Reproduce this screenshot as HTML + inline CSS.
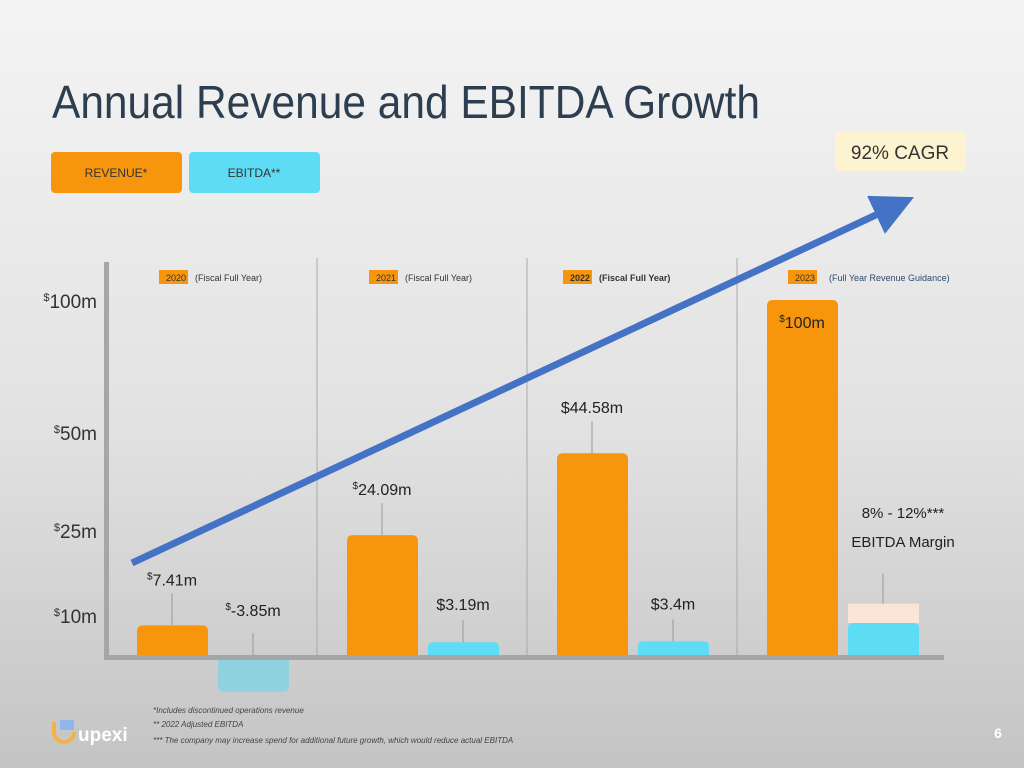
<!DOCTYPE html>
<html><head><meta charset="utf-8"><style>
body{margin:0;width:1024px;height:768px;overflow:hidden;font-family:"Liberation Sans",sans-serif}
svg{display:block}
</style></head><body>
<svg id="chart" width="1024" height="768" viewBox="0 0 1024 768" font-family="Liberation Sans, sans-serif">
<defs>
<linearGradient id="bg" x1="0" y1="0" x2="0" y2="1"><stop offset="0" stop-color="#f4f4f4"/><stop offset="0.55" stop-color="#e2e2e2"/><stop offset="1" stop-color="#c4c4c4"/></linearGradient>
<marker id="ah" markerWidth="6" markerHeight="6" refX="3" refY="3" orient="auto" markerUnits="strokeWidth"><path d="M0,0 L6,3 L0,6 z" fill="#4472c4"/></marker>
</defs>
<rect width="1024" height="768" fill="url(#bg)"/>
<text x="52" y="118" font-size="46" fill="#2d3e50" textLength="708" lengthAdjust="spacingAndGlyphs">Annual Revenue and EBITDA Growth</text>
<g><rect x="51" y="152" width="131" height="41" rx="4" fill="#f7960c"/><text x="116" y="177" font-size="12" text-anchor="middle" fill="#333">REVENUE*</text></g>
<g><rect x="189" y="152" width="131" height="41" rx="4" fill="#5fdcf5"/><text x="254" y="177" font-size="12" text-anchor="middle" fill="#333">EBITDA**</text></g>
<g><rect x="835" y="131" width="131" height="40" rx="4" fill="#fdf3d0"/><text x="900" y="159" font-size="19" text-anchor="middle" fill="#333">92% CAGR</text></g>
<g id="plot"></g>
<line x1="132" y1="563" x2="895" y2="206" stroke="#4472c4" stroke-width="7" marker-end="url(#ah)"/>
<g font-size="8" font-style="italic" fill="#444">
<text x="153" y="713">*Includes discontinued operations revenue</text>
<text x="153" y="727">** 2022 Adjusted EBITDA</text>
<text x="153" y="743">*** The company may increase spend for additional future growth, which would reduce actual EBITDA</text></g>
<g><path d="M54,722 v10 a10,10 0 0 0 20,0" fill="none" stroke="#f2b24a" stroke-width="4"/><rect x="60" y="720" width="14" height="10" fill="#8fb8e8"/><text x="78" y="741" font-size="19" font-weight="bold" fill="#fff">upexi</text></g>
<text x="998" y="738" font-size="14" font-weight="bold" fill="#fff" text-anchor="middle">6</text>
</svg>
<script>
const years=['2020','2021','2022','2023'];
const yearNotes=['(Fiscal Full Year)','(Fiscal Full Year)','(Fiscal Full Year)','(Full Year Revenue Guidance)'];
const revenue=[7.41,24.09,44.58,100];
const revenueLabels=['7.41m','24.09m','$44.58m','100m'];
const ebitda=[-3.85,3.19,3.4,8];
const ebitdaLabels=['-3.85m','$3.19m','$3.4m',''];
const ebitdaHigh=[null,null,null,12];
const tickValues=[10,25,50,100];
const tickLabels=['10m','25m','50m','100m'];
const NS='http://www.w3.org/2000/svg';
const g=document.getElementById('plot');
const sd=[0,10,25,50,100], sp=[655,615,530,432,300];
function y(v){if(v<0)return 655-v*9.5;for(let i=1;i<sd.length;i++){if(v<=sd[i]||i==sd.length-1){const t=(v-sd[i-1])/(sd[i]-sd[i-1]);return sp[i-1]+t*(sp[i]-sp[i-1]);}}}
function x(i){return 137+i*210;}
function el(t,a,txt){const e=document.createElementNS(NS,t);for(const k in a)e.setAttribute(k,a[k]);if(txt!==undefined)e.textContent=txt;g.appendChild(e);return e;}
function barPath(x0,top,w,bot,r){if(top>bot){return `M${x0},${bot} H${x0+w} V${top-r} Q${x0+w},${top} ${x0+w-r},${top} H${x0+r} Q${x0},${top} ${x0},${top-r} Z`;}return `M${x0},${bot} V${top+r} Q${x0},${top} ${x0+r},${top} H${x0+w-r} Q${x0+w},${top} ${x0+w},${top+r} V${bot} Z`;}
// dividers
for(let i=1;i<4;i++){const d=el('line',{x1:107+i*210,y1:258,x2:107+i*210,y2:655,stroke:'#aaa','stroke-width':1});

}
// ticks
tickValues.forEach((v,i)=>{const t=el('text',{x:97,y:y(v)+8,'font-size':19,'text-anchor':'end',fill:'#333'});


const s=document.createElementNS(NS,'tspan');s.setAttribute('font-size',11);s.setAttribute('dy',-7);s.textContent='$';t.appendChild(s);
const m=document.createElementNS(NS,'tspan');m.setAttribute('dy',7);m.textContent=tickLabels[i];t.appendChild(m);});
years.forEach((yr,i)=>{
 const cx=107+i*210;
 const bx=i==2?563:(i==3?788:cx+52);
 const yb=el('rect',{x:bx,y:270,width:29,height:14,fill:'#f7960c'});
 
 
 const yt=el('text',{x:bx+27,y:281,'font-size':9,'text-anchor':'end',fill:'#333','font-weight':i==2?'bold':'normal'},yr);
 
 
 const yn=el('text',{x:bx+(i==3?41:36),y:281,'font-size':9,fill:i==3?'#2d4a70':'#333','font-weight':i==2?'bold':'normal'},yearNotes[i]);
 
 
 // revenue bar
 const rt=y(revenue[i]);
 const rb=el('path',{d:barPath(x(i),rt,71,655,6),fill:'#f7960c'});
 
 
 const lx=x(i)+35;
 if(i<3){el('line',{x1:lx+(i==2?0:0),y1:rt,x2:lx,y2:rt-32,stroke:'#999'});}
 const ly=i==3?rt+28:rt-40;
 const rl=el('text',{x:lx,y:ly,'font-size':16,'text-anchor':'middle',fill:'#222'});
 
 
 if(revenueLabels[i][0]!=='$'){const s=document.createElementNS(NS,'tspan');s.setAttribute('font-size',10);s.setAttribute('dy',-6);s.textContent='$';rl.appendChild(s);const m=document.createElementNS(NS,'tspan');m.setAttribute('dy',6);m.textContent=revenueLabels[i];rl.appendChild(m);}else rl.textContent=revenueLabels[i];
 // ebitda
 const ex=x(i)+81;
 if(ebitdaHigh[i]!=null){const hb=el('rect',{x:ex,y:y(ebitdaHigh[i]),width:71,height:y(ebitda[i])-y(ebitdaHigh[i]),fill:'#fbe5d6'});
 
 }
 const et=y(ebitda[i]);
 const eb=el('path',{d:ebitda[i]<0?barPath(ex,et,71,660,6):barPath(ex,et,71,655,5),fill:ebitda[i]<0?'#8fd3e0':'#5fdcf5'});
 
 
 const top=ebitdaHigh[i]!=null?y(ebitdaHigh[i]):Math.min(et,655);
 if(i==0){el('line',{x1:ex+35,y1:655,x2:ex+35,y2:633,stroke:'#999'});}
 else el('line',{x1:ex+35,y1:top,x2:ex+35,y2:top-(i==3?30:22),stroke:'#999'});
 if(ebitdaLabels[i]){const el2=el('text',{x:ex+35,y:i==0?616:top-32,'font-size':16,'text-anchor':'middle',fill:'#222'});
 
 
 if(ebitdaLabels[i][0]!=='$'){const s=document.createElementNS(NS,'tspan');s.setAttribute('font-size',10);s.setAttribute('dy',-6);s.textContent='$';el2.appendChild(s);const m=document.createElementNS(NS,'tspan');m.setAttribute('dy',6);m.textContent=ebitdaLabels[i];el2.appendChild(m);}else el2.textContent=ebitdaLabels[i];}
 else{const a=el('text',{x:ex+55,y:518,'font-size':15,'text-anchor':'middle',fill:'#222'},ebitda[i]+'% - '+ebitdaHigh[i]+'%***');
 
 
 const b=el('text',{x:ex+55,y:547,'font-size':15,'text-anchor':'middle',fill:'#222'},'EBITDA Margin');
 
 }
});
const ya=el('rect',{x:104,y:262,width:5,height:398,fill:'#a6a6a6'});


const xa=el('rect',{x:104,y:655,width:840,height:5,fill:'#a6a6a6'});


</script>
</body></html>
